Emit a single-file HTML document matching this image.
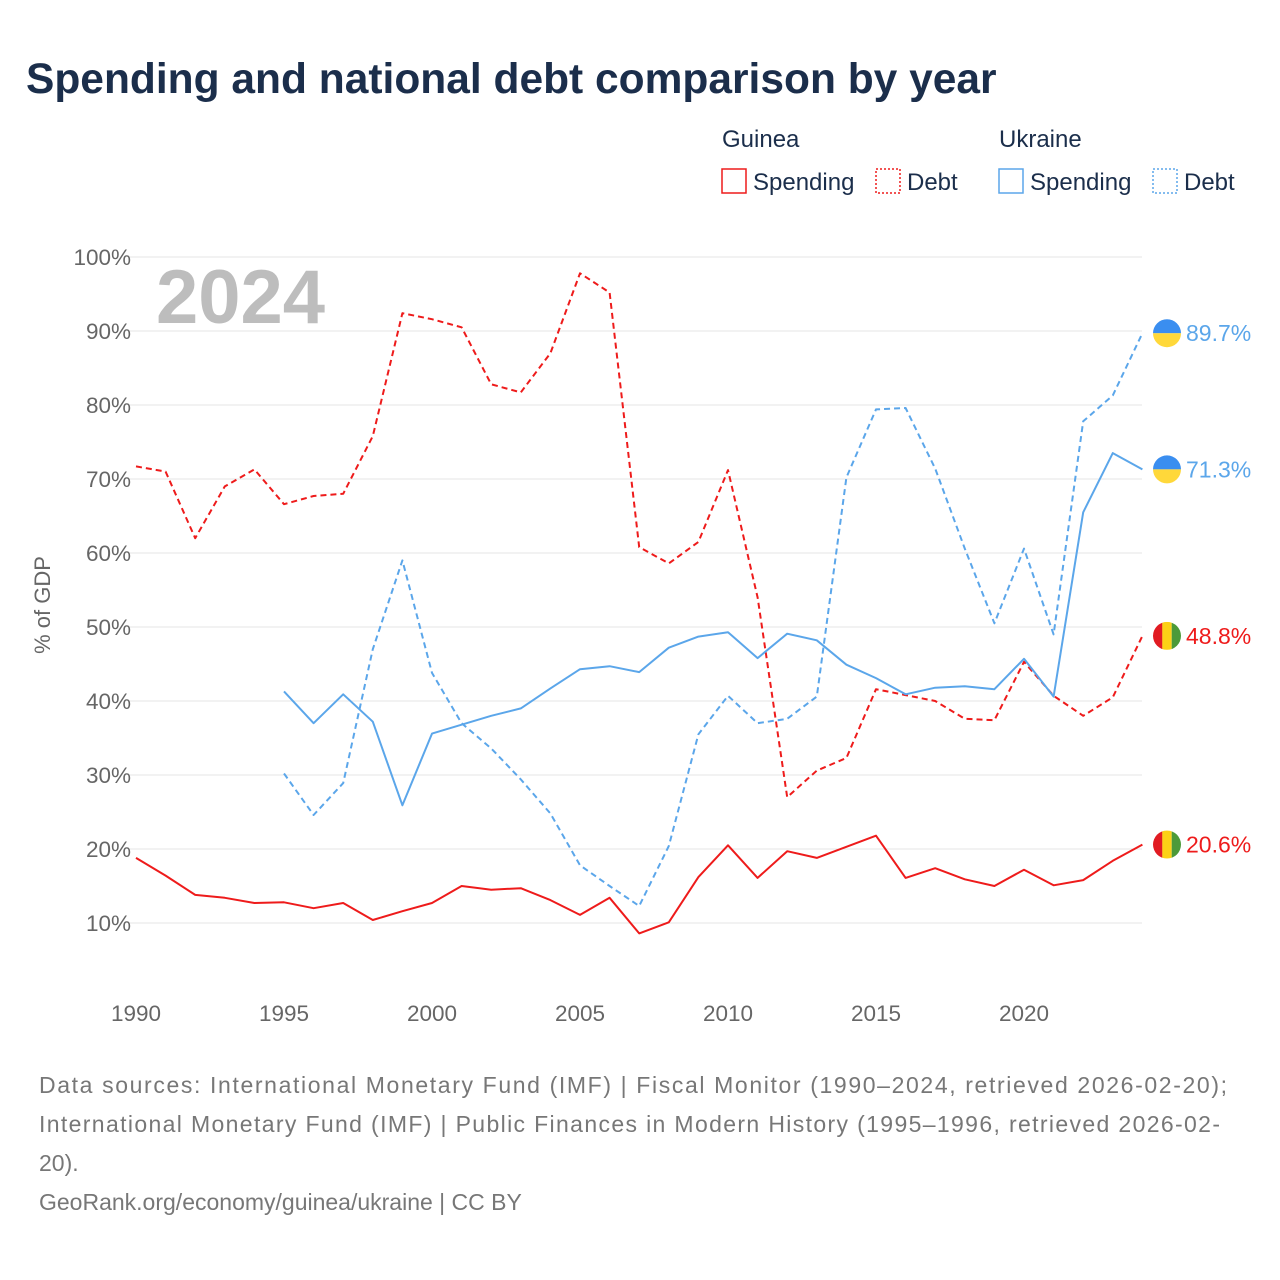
<!DOCTYPE html>
<html><head><meta charset="utf-8"><style>
body{margin:0;background:#fff;font-family:"Liberation Sans",sans-serif;}
#wrap{position:relative;width:1280px;height:1280px;overflow:hidden;}
</style></head><body>
<div id="wrap">
<svg id="chart" width="1280" height="1280" xmlns="http://www.w3.org/2000/svg"></svg>
</div>
<script>
const years = [];
for (let y = 1990; y <= 2024; y++) years.push(y);
const guineaSpending = [18.8,16.4,13.8,13.4,12.7,12.8,12.0,12.7,10.4,11.6,12.7,15.0,14.5,14.7,13.1,11.1,13.4,8.6,10.1,16.2,20.5,16.1,19.7,18.8,20.3,21.8,16.1,17.4,15.9,15.0,17.2,15.1,15.8,18.4,20.6];
const guineaDebt = [71.7,71.0,62.0,69.0,71.3,66.6,67.7,68.0,75.8,92.4,91.6,90.5,82.8,81.7,87.0,97.8,95.2,60.8,58.6,61.5,71.2,54.0,27.0,30.6,32.3,41.6,40.8,40.0,37.6,37.4,45.3,40.7,38.0,40.5,48.8];
const ukraineYears = years.filter(y => y >= 1995);
const ukraineSpending = [41.3,37.0,40.9,37.2,25.9,35.6,36.8,38.0,39.0,41.7,44.3,44.7,43.9,47.2,48.7,49.3,45.8,49.1,48.2,44.9,43.1,40.9,41.8,42.0,41.6,45.7,40.6,65.5,73.5,71.3];
const ukraineDebt = [30.2,24.6,28.9,47.0,59.0,43.8,37.0,33.6,29.4,24.8,17.8,15.0,12.3,20.4,35.5,40.7,37.0,37.6,40.6,70.2,79.4,79.6,71.4,60.6,50.5,60.6,49.0,77.8,81.3,89.7];
const yTicks = [10,20,30,40,50,60,70,80,90,100];
const xTicks = [1990,1995,2000,2005,2010,2015,2020];

const RED = "#ee1b1b", BLUE = "#5ba6ea";
const xS = y => 136 + (y - 1990) * 29.6;
const yS = v => 997 - v * 7.4;
const svg = document.getElementById('chart');
const NS = "http://www.w3.org/2000/svg";
function mk(tag, attrs, text) {
  const e = document.createElementNS(NS, tag);
  for (const k in attrs) e.setAttribute(k, attrs[k]);
  if (text !== undefined) e.textContent = text;
  svg.appendChild(e);
  return e;
}
const F = '"Liberation Sans", sans-serif';

let t = mk('text', {x:26, y:93, 'font-size':42.5, 'font-weight':'bold', fill:'#1b2e4b', 'font-family':F}, 'Spending and national debt comparison by year');



function legend(x, y, label, color, dotted, name) {
  const r = mk('rect', {x:x, y:y-18, width:24, height:24, fill:'none', stroke:color, 'stroke-width':1.5, 'stroke-dasharray': dotted ? '2,2' : 'none'});
  
  
  const tx = mk('text', {x:x+31, y:y+3, 'font-size':24, fill:'#1b2e4b', 'font-family':F}, label);
  
  
}
t = mk('text', {x:722, y:147, 'font-size':24, fill:'#1b2e4b', 'font-family':F}, 'Guinea');


t = mk('text', {x:999, y:147, 'font-size':24, fill:'#1b2e4b', 'font-family':F}, 'Ukraine');


legend(722, 187, 'Spending', RED, false, 'legend-guinea-spending');
legend(876, 187, 'Debt', RED, true, 'legend-guinea-debt');
legend(999, 187, 'Spending', BLUE, false, 'legend-ukraine-spending');
legend(1153, 187, 'Debt', BLUE, true, 'legend-ukraine-debt');

yTicks.forEach(v => {
  const l = mk('line', {x1:130, x2:1142, y1:yS(v), y2:yS(v), stroke:'#e6e6e6', 'stroke-width':1});
  
  
  const tx = mk('text', {x:131, y:yS(v)+8, 'font-size':22.5, fill:'#666', 'text-anchor':'end', 'font-family':F}, v + '%');
  
  
});
xTicks.forEach(y => {
  const tx = mk('text', {x:xS(y), y:1021, 'font-size':22.5, fill:'#666', 'text-anchor':'middle', 'font-family':F}, y);
  
  
});
t = mk('text', {x:0, y:0, 'font-size':22, fill:'#666', 'text-anchor':'middle', 'font-family':F, transform:'translate(50,605) rotate(-90)'}, '% of GDP');


t = mk('text', {x:156, y:323, 'font-size':76, 'font-weight':'bold', fill:'#bdbdbd', 'font-family':F}, '2024');



function series(xs, vals, color, dash, name) {
  const d = vals.map((v, i) => (i ? 'L' : 'M') + xS(xs[i]).toFixed(1) + ',' + yS(v).toFixed(1)).join(' ');
  const p = mk('path', {d:d, fill:'none', stroke:color, 'stroke-width':2, 'stroke-dasharray':dash, 'stroke-linejoin':'round'});
  
  
}
series(years, guineaSpending, RED, 'none', 'line-guinea-spending');
series(years, guineaDebt, RED, '6,4', 'line-guinea-debt');
series(ukraineYears, ukraineSpending, BLUE, 'none', 'line-ukraine-spending');
series(ukraineYears, ukraineDebt, BLUE, '6,4', 'line-ukraine-debt');

function endLabel(val, color, flag, name) {
  const cy = yS(val), cx = 1167;
  const g = document.createElementNS(NS, 'g');
  svg.appendChild(g);
  
  
  const add = (tag, a) => { const e = document.createElementNS(NS, tag); for (const k in a) e.setAttribute(k, a[k]); g.appendChild(e); return e; };
  if (flag === 'ua') {
    add('path', {d:`M${cx-14},${cy} A14,14 0 0 1 ${cx+14},${cy} Z`, fill:'#3a8ef0'});
    add('path', {d:`M${cx-14},${cy} A14,14 0 0 0 ${cx+14},${cy} Z`, fill:'#ffd83a'});
  } else {
    const cp = 'clip' + name;
    const c = add('clipPath', {id:cp});
    const ci = document.createElementNS(NS, 'circle');
    ci.setAttribute('cx', cx); ci.setAttribute('cy', cy); ci.setAttribute('r', 14);
    c.appendChild(ci);
    add('rect', {x:cx-14, y:cy-14, width:9.4, height:28, fill:'#e11b22', 'clip-path':`url(#${cp})`});
    add('rect', {x:cx-4.7, y:cy-14, width:9.4, height:28, fill:'#fcd116', 'clip-path':`url(#${cp})`});
    add('rect', {x:cx+4.7, y:cy-14, width:9.4, height:28, fill:'#4c9a3a', 'clip-path':`url(#${cp})`});
  }
  const tx = mk('text', {x:1186, y:cy+8, 'font-size':23, fill:color, 'font-family':F}, val.toFixed(1) + '%');
  
  
}
endLabel(ukraineDebt[ukraineDebt.length-1], BLUE, 'ua', 'end-ukraine-debt');
endLabel(ukraineSpending[ukraineSpending.length-1], BLUE, 'ua', 'end-ukraine-spending');
endLabel(guineaDebt[guineaDebt.length-1], RED, 'gn', 'end-guinea-debt');
endLabel(guineaSpending[guineaSpending.length-1], RED, 'gn', 'end-guinea-spending');

const src = ['Data sources: International Monetary Fund (IMF) | Fiscal Monitor (1990–2024, retrieved 2026-02-20);',
 'International Monetary Fund (IMF) | Public Finances in Modern History (1995–1996, retrieved 2026-02-',
 '20).', 'GeoRank.org/economy/guinea/ukraine | CC BY'];
src.forEach((s, i) => {
  const tx = mk('text', {x:39, y:1093 + i*39, 'font-size':23, fill:'#777', 'font-family':F, textLength: i === 0 ? 1188 : (i === 1 ? 1181 : null)}, s);
  if (i > 1) tx.removeAttribute('textLength');
  
  
});
</script>
</body></html>
